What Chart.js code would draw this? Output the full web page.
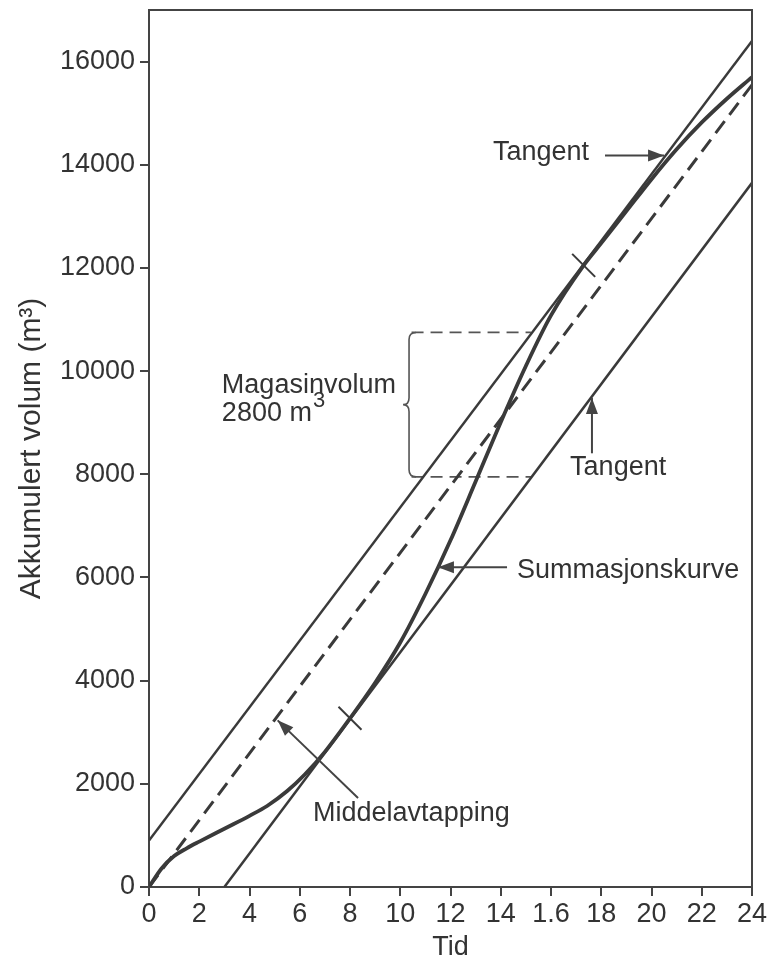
<!DOCTYPE html>
<html><head><meta charset="utf-8">
<script src="https://cdn.jsdelivr.net/npm/chart.js@4/dist/chart.umd.min.js"></script>
<style>html,body{margin:0;padding:0;background:#fff;}canvas{display:block;}</style>
</head><body>
<canvas id="c" width="772" height="964"></canvas>
<script>
// ---------- data ----------
const xTickLabels = ['0','2','4','6','8','10','12','14','1.6','18','20','22','24'];
const yTickValues = [0,2000,4000,6000,8000,10000,12000,14000,16000];

// Summasjonskurve (accumulated inflow)
const sumX = [0,0.5,1,1.5,2,3,4,4.7,5.5,6.2,7,8,9,10,11,12,13,14,15,16,17.3,18,19,20,21,22,23,24];
const sumY = [0,360,600,750,880,1130,1380,1570,1860,2180,2620,3270,3960,4740,5680,6720,7860,9010,10100,11080,12050,12480,13100,13720,14300,14820,15280,15700];

// Middelavtapping (mean draw-off, dashed)
const meanX = [0,24];
const meanY = [0,15550];

// Tangents (parallel to mean draw-off)
const upTanX = [0,24];
const upTanY = [900,16400];
const loTanX = [3,24];
const loTanY = [0,13650];

// Magasinvolum bracket levels
const storeTopX = [10.45,15.2];
const storeTopY = [10750,10750];
const storeBotX = [10.45,15.2];
const storeBotY = [7950,7950];

// Points of tangency (marked with a cross tick)
const touchX = [8,17.3];
const touchY = [3270,12050];

const pts = (xs, ys) => xs.map((x, i) => ({x: x, y: ys[i]}));

// ---------- styles ----------
const INK = '#3a3a3a';
const FONT = '"Liberation Sans", Arial, sans-serif';
const FS = 27;

// annotation layout (data units)
const notes = [
  {text: 'Tangent', x: 13.69, y: 14237, ax1: 18.15, ay1: 14179, ax2: 20.5, ay2: 14179},
  {text: 'Tangent', x: 16.76, y: 8136, ax1: 17.63, ay1: 8407, ax2: 17.63, ay2: 9480},
  {text: 'Summasjonskurve', x: 14.65, y: 6140, ax1: 14.25, ay1: 6199, ax2: 11.5, ay2: 6199},
  {text: 'Middelavtapping', x: 6.53, y: 1433, ax1: 8.32, ay1: 1724, ax2: 5.12, ay2: 3230}
];

const notePlugin = {
  id: 'notes',
  afterDatasetsDraw(chart) {
    const ctx = chart.ctx, xs = chart.scales.x, ys = chart.scales.y;
    const X = v => xs.getPixelForValue(v), Y = v => ys.getPixelForValue(v);
    ctx.save();
    ctx.fillStyle = '#333';
    ctx.strokeStyle = '#444';
    ctx.font = FS + 'px ' + FONT;
    ctx.textBaseline = 'middle';
    ctx.textAlign = 'left';
    notes.forEach(n => {
      ctx.fillText(n.text, X(n.x), Y(n.y));
      const x1 = X(n.ax1), y1 = Y(n.ay1), x2 = X(n.ax2), y2 = Y(n.ay2);
      ctx.lineWidth = 2;
      ctx.beginPath(); ctx.moveTo(x1, y1); ctx.lineTo(x2, y2); ctx.stroke();
      const a = Math.atan2(y2 - y1, x2 - x1), L = 16, W = 6;
      ctx.beginPath();
      ctx.moveTo(x2, y2);
      ctx.lineTo(x2 - L*Math.cos(a) + W*Math.sin(a), y2 - L*Math.sin(a) - W*Math.cos(a));
      ctx.lineTo(x2 - L*Math.cos(a) - W*Math.sin(a), y2 - L*Math.sin(a) + W*Math.cos(a));
      ctx.closePath(); ctx.fillStyle = '#444'; ctx.fill();
      ctx.fillStyle = '#333';
    });
    // Magasinvolum text
    const mx = X(2.9);
    ctx.fillText('Magasinvolum', mx, Y(9724));
    const line2 = '2800 m';
    ctx.fillText(line2, mx, Y(9180));
    const w2 = ctx.measureText(line2).width;
    ctx.font = '22px ' + FONT;
    ctx.fillText('3', mx + w2 + 1, Y(9180) - 12);
    // brace
    const bx = X(10.35), bt = Y(storeTopY[0]), bb = Y(storeBotY[0]), bm = (bt + bb) / 2;
    ctx.lineWidth = 1.6; ctx.strokeStyle = '#555';
    ctx.beginPath();
    ctx.moveTo(bx + 7, bt);
    ctx.quadraticCurveTo(bx, bt, bx, bt + 7);
    ctx.lineTo(bx, bm - 7);
    ctx.quadraticCurveTo(bx, bm, bx - 6, bm);
    ctx.quadraticCurveTo(bx, bm, bx, bm + 7);
    ctx.lineTo(bx, bb - 7);
    ctx.quadraticCurveTo(bx, bb, bx + 7, bb);
    ctx.stroke();
    // tangency cross ticks
    ctx.strokeStyle = INK; ctx.lineWidth = 2;
    touchX.forEach((tx, i) => {
      const px = X(tx), py = Y(touchY[i]), d = 11.5;
      ctx.beginPath(); ctx.moveTo(px - d, py - d); ctx.lineTo(px + d, py + d); ctx.stroke();
    });
    ctx.restore();
  }
};

const framePlugin = {
  id: 'frame',
  afterDraw(chart) {
    const {left, right, top, bottom} = chart.chartArea, ctx = chart.ctx;
    ctx.save();
    ctx.strokeStyle = '#444'; ctx.lineWidth = 2;
    ctx.beginPath();
    ctx.moveTo(left, top); ctx.lineTo(right, top); ctx.lineTo(right, bottom);
    ctx.stroke();
    ctx.restore();
  }
};

const lineDs = (label, data, extra) => Object.assign({
  label: label, data: data, borderColor: INK, borderWidth: 2.5,
  pointRadius: 0, fill: false, tension: 0
}, extra);

new Chart(document.getElementById('c'), {
  type: 'line',
  data: {
    datasets: [
      lineDs('Summasjonskurve', pts(sumX, sumY), {borderWidth: 3.8, cubicInterpolationMode: 'monotone'}),
      lineDs('Middelavtapping', pts(meanX, meanY), {borderWidth: 3, borderDash: [15, 8]}),
      lineDs('Tangent (øvre)', pts(upTanX, upTanY)),
      lineDs('Tangent (nedre)', pts(loTanX, loTanY)),
      lineDs('Magasinvolum topp', pts(storeTopX, storeTopY), {borderWidth: 1.8, borderDash: [12, 7], borderColor: '#555'}),
      lineDs('Magasinvolum bunn', pts(storeBotX, storeBotY), {borderWidth: 1.8, borderDash: [12, 7], borderColor: '#555'})
    ]
  },
  options: {
    responsive: false,
    devicePixelRatio: 1,
    animation: false,
    layout: {padding: {top: 10, right: 20, left: 0, bottom: 0}},
    plugins: {legend: {display: false}, tooltip: {enabled: false}},
    scales: {
      x: {
        type: 'linear', min: 0, max: 24,
        afterFit: s => { s.height = 77; s.paddingLeft = 0; s.paddingRight = 0; },
        ticks: {stepSize: 2, color: '#333', font: {size: FS, family: FONT}, padding: 2,
          maxRotation: 0, autoSkip: false,
          callback: v => xTickLabels[Math.round(v / 2)]},
        grid: {drawOnChartArea: false, drawTicks: true, tickLength: 9, color: '#444', lineWidth: 2},
        border: {color: '#444', width: 2},
        title: {display: true, text: 'Tid', color: '#333', font: {size: FS, family: FONT}, padding: {top: 0, bottom: 0}}
      },
      y: {
        type: 'linear', min: 0, max: 17000,
        afterFit: s => { s.width = 149; s.paddingTop = 0; s.paddingBottom = 0; },
        afterBuildTicks: s => { s.ticks = yTickValues.map(v => ({value: v})); },
        ticks: {color: '#333', font: {size: FS, family: FONT}, padding: 5,
          callback: v => String(v)},
        grid: {drawOnChartArea: false, drawTicks: true, tickLength: 9, color: '#444', lineWidth: 2},
        border: {color: '#444', width: 2},
        title: {display: true, text: 'Akkumulert volum (m³)', color: '#333', font: {size: 30, family: FONT}, padding: {top: 14, bottom: 0}}
      }
    }
  },
  plugins: [notePlugin, framePlugin]
});
</script>
</body></html>
